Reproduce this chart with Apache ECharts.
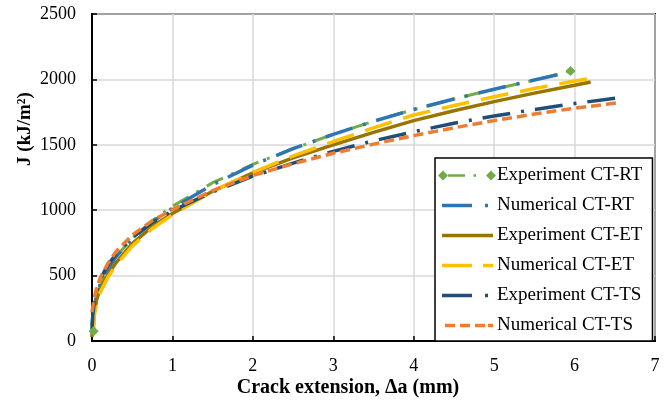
<!DOCTYPE html>
<html>
<head>
<meta charset="utf-8">
<script src="https://cdn.jsdelivr.net/npm/echarts@6/dist/echarts.min.js"></script>
<style>
  html, body { margin: 0; padding: 0; background: #fff; }
  #chart { width: 672px; height: 403px; }
</style>
</head>
<body>
<div id="chart"></div>
<script>
// values: crack extension (mm) and J (kJ/m2)
const xExpRT = [0.02, 0.03, 0.06, 0.1, 0.2, 0.3, 0.5, 0.75, 1, 1.5, 2, 2.5, 3, 3.5, 4, 4.5, 5, 5.5, 5.95];
const jExpRT = [75, 200, 300, 420, 550, 645, 785, 920, 1030, 1210, 1350, 1470, 1580, 1680, 1770, 1850, 1925, 1995, 2065];

const xNumRT = [0, 0.01, 0.03, 0.06, 0.1, 0.2, 0.3, 0.5, 0.75, 1, 1.5, 2, 2.5, 3, 3.5, 4, 4.5, 5, 5.5, 5.97];
const jNumRT = [120, 180, 270, 350, 430, 555, 645, 780, 910, 1015, 1195, 1345, 1470, 1580, 1680, 1770, 1850, 1925, 1995, 2060];

const xExpET = [0, 0.005, 0.02, 0.05, 0.1, 0.2, 0.3, 0.5, 0.75, 1, 1.5, 2, 2.5, 3, 3.5, 4, 4.5, 5, 5.5, 6, 6.2];
const jExpET = [30, 100, 200, 300, 395, 510, 600, 745, 875, 975, 1145, 1285, 1400, 1500, 1595, 1685, 1760, 1830, 1895, 1955, 1980];

const xNumET = [0.01, 0.03, 0.06, 0.1, 0.2, 0.3, 0.5, 0.75, 1, 1.5, 2, 2.5, 3, 3.5, 4, 4.5, 5, 5.5, 6, 6.22];
const jNumET = [60, 200, 290, 370, 490, 580, 725, 860, 965, 1145, 1290, 1415, 1525, 1630, 1728, 1800, 1868, 1930, 1988, 2010];

const xExpTS = [0, 0.01, 0.03, 0.06, 0.1, 0.2, 0.3, 0.5, 0.75, 1, 1.5, 2, 2.5, 3, 3.5, 4, 4.5, 5, 5.5, 6, 6.52];
const jExpTS = [90, 200, 300, 390, 470, 585, 665, 790, 905, 995, 1140, 1260, 1360, 1450, 1530, 1600, 1665, 1720, 1770, 1815, 1858];

const xNumTS = [0, 0.02, 0.05, 0.1, 0.2, 0.3, 0.5, 0.75, 1, 1.5, 2, 2.5, 3, 3.5, 4, 4.5, 5, 5.5, 6, 6.53];
const jNumTS = [220, 300, 390, 480, 595, 685, 810, 920, 1005, 1150, 1265, 1355, 1435, 1505, 1570, 1630, 1685, 1735, 1780, 1820];

const seriesNames = ['Experiment CT-RT', 'Numerical CT-RT', 'Experiment CT-ET', 'Numerical CT-ET', 'Experiment CT-TS', 'Numerical CT-TS'];
const xTicks = [0, 7, 1];
const yTicks = [0, 2500, 500];

const font = '"Liberation Serif", "Times New Roman", serif';
const pair = (xs, ys) => xs.map((x, i) => [x, ys[i]]);

// legend icons, drawn 58 wide (tiny slivers pin the ends so nothing gets rescaled)
const pin = 'M0,0L0.01,0L0.01,0.01ZM57.99,0L58,0L58,0.01Z';
const bar = (a, b, h) => 'M' + a + ',0L' + b + ',0L' + b + ',' + h + 'L' + a + ',' + h + 'Z';
const icons = [
  'path://M0,5.5L5,0.5L10,5.5L5,10.5Z' + 'M10,4.2L27,4.2L27,6.8L10,6.8Z' + 'M35.5,4.2L38,4.2L38,6.8L35.5,6.8Z' + 'M48,5.5L53,0.5L58,5.5L53,10.5Z',
  'path://' + pin + bar(4, 34, 3.5) + bar(47, 50, 3.5),
  'path://' + pin + bar(4, 55, 3.5),
  'path://' + pin + bar(4, 34, 3.5) + bar(45, 55, 3.5),
  'path://' + pin + bar(4, 34, 3.5) + bar(47, 50, 3.5),
  'path://' + pin + bar(7, 17, 3.5) + bar(22, 32, 3.5) + bar(37, 47, 3.5) + bar(50, 55, 3.5)
];

const chart = echarts.init(document.getElementById('chart'));

const expRT = pair(xExpRT, jExpRT).map((p, i, arr) => ({
  value: p,
  symbol: (i === 0 || i === arr.length - 1) ? 'diamond' : 'none'
}));

const lineSeries = (name, data, color, type, width) => ({
  name: name,
  type: 'line',
  data: data,
  symbol: 'none',
  lineStyle: { color: color, width: width, type: type, cap: 'butt' },
  itemStyle: { color: color },
  animation: false
});

const option = {
  backgroundColor: '#fff',
  grid: { left: 92, right: 17, top: 14, bottom: 62, show: true, borderColor: '#000', borderWidth: 2 },
  xAxis: {
    type: 'value',
    min: xTicks[0], max: xTicks[1], interval: xTicks[2],
    axisLine: { lineStyle: { color: '#000', width: 2 } },
    axisTick: { show: true, inside: true, length: 5, lineStyle: { color: '#000', width: 1.5 } },
    axisLabel: { color: '#000', fontFamily: font, fontSize: 18, margin: 16 },
    splitLine: { show: true, lineStyle: { color: '#d9d9d9', width: 1.5 } }
  },
  yAxis: {
    type: 'value',
    min: yTicks[0], max: yTicks[1], interval: yTicks[2],
    axisLine: { show: true, lineStyle: { color: '#000', width: 2 } },
    axisTick: { show: true, inside: true, length: 5, lineStyle: { color: '#000', width: 1.5 } },
    axisLabel: { color: '#000', fontFamily: font, fontSize: 18, margin: 16, formatter: v => String(v) },
    splitLine: { show: true, lineStyle: { color: '#d9d9d9', width: 1.5 } }
  },
  legend: {
    orient: 'vertical',
    left: 435,
    top: 158,
    padding: [8, 10, 6, 3],
    itemWidth: 58,
    itemHeight: 18,
    itemGap: 11,
    backgroundColor: '#fff',
    borderColor: '#000',
    borderWidth: 1.5,
    borderRadius: 0,
    textStyle: { color: '#000', fontFamily: font, fontSize: 19, lineHeight: 19, padding: [0, 0, 0, -4] },
    data: seriesNames.map((n, i) => ({ name: n, icon: icons[i] }))
  },
  graphic: [
    {
      type: 'text', x: 25, y: 129, rotation: Math.PI / 2,
      style: { text: 'J (kJ/m²)', font: 'bold 19px ' + font, fill: '#000', align: 'center', verticalAlign: 'middle' }
    },
    {
      type: 'text', x: 348, y: 388,
      style: { text: 'Crack extension, \u0394a (mm)', font: 'bold 20px ' + font, fill: '#000', align: 'center', verticalAlign: 'middle' }
    }
  ],
  series: [
    Object.assign(lineSeries(seriesNames[0], expRT, '#70ad47', [18, 9, 3, 9], 3), {
      symbol: 'diamond', symbolSize: 10, showSymbol: true, showAllSymbol: true
    }),
    lineSeries(seriesNames[1], pair(xNumRT, jNumRT), '#2e75b6', [28, 11, 3, 11], 3.5),
    lineSeries(seriesNames[2], pair(xExpET, jExpET), '#9a7400', 'solid', 3.5),
    lineSeries(seriesNames[3], pair(xNumET, jNumET), '#ffc000', [28, 12], 3.5),
    lineSeries(seriesNames[4], pair(xExpTS, jExpTS), '#1f4e79', [28, 11, 3, 11], 3.5),
    lineSeries(seriesNames[5], pair(xNumTS, jNumTS), '#ed7d31', [10, 5], 3.5)
  ]
};

chart.setOption(option);
</script>
</body>
</html>
